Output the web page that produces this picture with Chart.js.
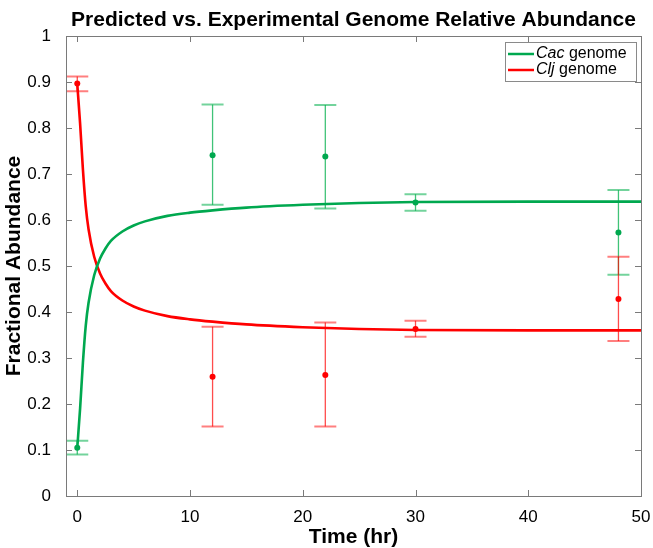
<!DOCTYPE html>
<html>
<head>
<meta charset="utf-8">
<script src="https://cdn.jsdelivr.net/npm/chart.js@4.4.1/dist/chart.umd.min.js"></script>
<style>
  html, body { margin: 0; padding: 0; background: #fff; }
  #wrap { width: 653px; height: 548px; }
</style>
</head>
<body>
<div id="wrap"><canvas id="c" width="653" height="548"></canvas></div>
<script>
// ---------- data ----------
const curveTime = [0, 0.25, 0.5, 0.75, 1, 1.5, 2, 2.5, 3, 4, 5, 6, 8, 10, 12, 15, 20, 25, 30, 40, 50];
const cacCurve  = [0.105, 0.19, 0.29, 0.37, 0.42, 0.48, 0.515, 0.538, 0.555, 0.575, 0.588, 0.597, 0.609, 0.616, 0.621, 0.627, 0.633, 0.637, 0.639, 0.64, 0.64];
const cljCurve  = [0.895, 0.81, 0.71, 0.63, 0.58, 0.52, 0.485, 0.462, 0.445, 0.425, 0.412, 0.403, 0.391, 0.384, 0.379, 0.373, 0.367, 0.363, 0.361, 0.36, 0.36];

const sampleTime = [0, 12, 22, 30, 48];
const cacMean  = [0.105, 0.741, 0.738, 0.638, 0.573];
const cacLow   = [0.090, 0.633, 0.625, 0.620, 0.481];
const cacHigh  = [0.120, 0.851, 0.850, 0.656, 0.665];
const cljMean  = [0.897, 0.259, 0.263, 0.363, 0.428];
const cljLow   = [0.880, 0.151, 0.151, 0.346, 0.337];
const cljHigh  = [0.912, 0.368, 0.377, 0.381, 0.520];

const xTicks = [0, 10, 20, 30, 40, 50];
const yTicks = [0, 0.1, 0.2, 0.3, 0.4, 0.5, 0.6, 0.7, 0.8, 0.9, 1];

const GREEN = '#00a84f', RED = '#ff0000';
const FONT = "'Liberation Sans', Arial, sans-serif";

const pts = (xs, ys) => xs.map((x, i) => ({ x, y: ys[i] }));

// error bars under the marks
const errorBars = {
  id: 'errorBars',
  beforeDatasetsDraw(chart) {
    const { ctx, scales: { x, y } } = chart;
    const sets = [
      { lo: cacLow, hi: cacHigh, line: 'rgba(0,175,75,0.75)', cap: 'rgba(0,175,75,0.55)' },
      { lo: cljLow, hi: cljHigh, line: 'rgba(255,0,0,0.7)', cap: 'rgba(255,0,0,0.5)' },
    ];
    ctx.save();
    sets.forEach((s) => {
      sampleTime.forEach((t, i) => {
        const px = x.getPixelForValue(t);
        const y0 = y.getPixelForValue(s.lo[i]), y1 = y.getPixelForValue(s.hi[i]);
        ctx.strokeStyle = s.line; ctx.lineWidth = 1.3;
        ctx.beginPath(); ctx.moveTo(px, y0); ctx.lineTo(px, y1); ctx.stroke();
        ctx.strokeStyle = s.cap; ctx.lineWidth = 2;
        ctx.beginPath();
        ctx.moveTo(px - 11, y0); ctx.lineTo(px + 11, y0);
        ctx.moveTo(px - 11, y1); ctx.lineTo(px + 11, y1);
        ctx.stroke();
      });
    });
    ctx.restore();
  },
};

// matlab-style box with inward ticks + legend
const boxAndLegend = {
  id: 'boxAndLegend',
  afterDraw(chart) {
    const { ctx, chartArea: a, scales: { x, y } } = chart;
    ctx.save();
    ctx.strokeStyle = '#7a7a7a';
    ctx.lineWidth = 1;
    ctx.strokeRect(a.left + 0.5, a.top + 0.5, a.right - a.left, a.bottom - a.top);
    ctx.beginPath();
    xTicks.forEach((v) => {
      const p = Math.round(x.getPixelForValue(v)) + 0.5;
      ctx.moveTo(p, a.bottom); ctx.lineTo(p, a.bottom - 6);
      ctx.moveTo(p, a.top); ctx.lineTo(p, a.top + 6);
    });
    yTicks.forEach((v) => {
      const p = Math.round(y.getPixelForValue(v)) + 0.5;
      ctx.moveTo(a.left, p); ctx.lineTo(a.left + 6, p);
      ctx.moveTo(a.right, p); ctx.lineTo(a.right - 6, p);
    });
    ctx.stroke();

    // legend
    const lx = a.right - 136, ly = a.top + 6, lw = 131, lh = 39;
    ctx.fillStyle = '#fff';
    ctx.fillRect(lx, ly, lw, lh);
    ctx.strokeStyle = '#8a8a8a';
    ctx.strokeRect(lx + 0.5, ly + 0.5, lw, lh);
    const rows = [['Cac', GREEN], ['Clj', RED]];
    rows.forEach(([name, col], i) => {
      const ry = ly + 12 + i * 16;
      ctx.strokeStyle = col; ctx.lineWidth = 2.5;
      ctx.beginPath(); ctx.moveTo(lx + 3, ry); ctx.lineTo(lx + 29, ry); ctx.stroke();
      ctx.fillStyle = '#000';
      ctx.textBaseline = 'middle';
      ctx.font = `italic 16px ${FONT}`;
      ctx.fillText(name, lx + 31, ry);
      const w = ctx.measureText(name).width;
      ctx.font = `16px ${FONT}`;
      ctx.fillText(' genome', lx + 31 + w, ry);
    });
    ctx.restore();
  },
};

new Chart(document.getElementById('c'), {
  type: 'line',
  data: {
    datasets: [
      { label: 'Cac genome', data: pts(curveTime, cacCurve), borderColor: GREEN, borderWidth: 2.6,
        pointRadius: 0, tension: 0.4, cubicInterpolationMode: 'monotone', order: 2 },
      { label: 'Clj genome', data: pts(curveTime, cljCurve), borderColor: RED, borderWidth: 2.6,
        pointRadius: 0, tension: 0.4, cubicInterpolationMode: 'monotone', order: 2 },
      { label: 'Cac data', data: pts(sampleTime, cacMean), showLine: false, pointRadius: 3,
        pointBackgroundColor: GREEN, pointBorderWidth: 0, borderColor: GREEN, order: 1 },
      { label: 'Clj data', data: pts(sampleTime, cljMean), showLine: false, pointRadius: 3,
        pointBackgroundColor: RED, pointBorderWidth: 0, borderColor: RED, order: 1 },
    ],
  },
  options: {
    responsive: false,
    animation: false,
    layout: { padding: { top: 0, right: 12, left: 0, bottom: 0 } },
    plugins: {
      legend: { display: false },
      tooltip: { enabled: false },
      title: {
        display: true, fullSize: false,
        text: 'Predicted vs. Experimental Genome Relative Abundance',
        color: '#000', font: { family: FONT, size: 21, weight: 'bold' },
        padding: { top: 8, bottom: 2.8 },
      },
    },
    scales: {
      x: {
        type: 'linear', min: -1, max: 50,
        afterBuildTicks: (s) => { s.ticks = xTicks.map((v) => ({ value: v })); },
        afterFit: (s) => { s.height = 52; s.paddingLeft = 0; s.paddingRight = 0; },
        grid: { display: false }, border: { display: false },
        ticks: { color: '#000', font: { family: FONT, size: 17 }, padding: 3, maxRotation: 0 },
        title: { display: true, text: 'Time (hr)', color: '#000', font: { family: FONT, size: 21, weight: 'bold' }, padding: { top: 0, bottom: -2 } },
      },
      y: {
        type: 'linear', min: 0, max: 1,
        afterBuildTicks: (s) => { s.ticks = yTicks.map((v) => ({ value: v })); },
        afterFit: (s) => { s.width = 66; s.paddingTop = 0; s.paddingBottom = 0; },
        grid: { display: false }, border: { display: false },
        ticks: { color: '#000', font: { family: FONT, size: 17 }, padding: 7, callback: (v) => String(+v.toFixed(1)) },
        title: { display: true, text: 'Fractional Abundance', color: '#000', font: { family: FONT, size: 21, weight: 'bold' }, padding: { top: 2, bottom: 0 } },
      },
    },
  },
  plugins: [errorBars, boxAndLegend],
});
</script>
</body>
</html>
